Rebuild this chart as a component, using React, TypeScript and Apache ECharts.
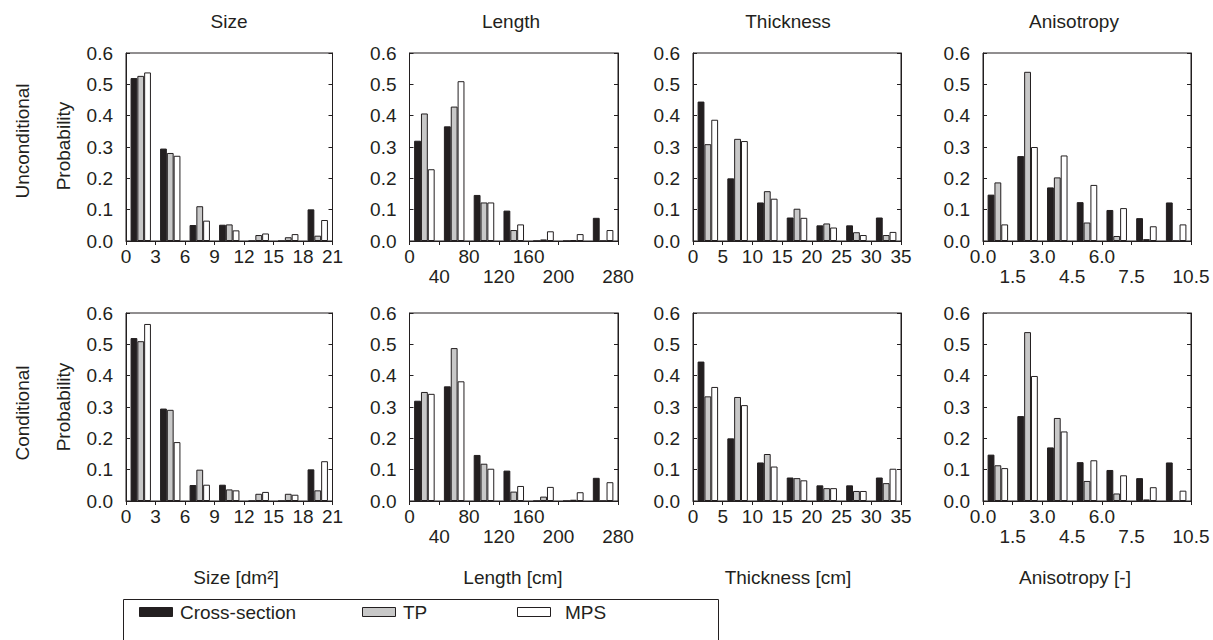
import React, { useEffect, useRef } from "react";
import * as echarts from "echarts";

// ---------- data ----------
const seriesNames = ["Cross-section", "TP", "MPS"];
const binLabels = ["b1", "b2", "b3", "b4", "b5", "b6", "b7"];
const columnTitles = ["Size", "Length", "Thickness", "Anisotropy"];
const axisNames = ["Size [dm²]", "Length [cm]", "Thickness [cm]", "Anisotropy [-]"];
const rowNames = ["Unconditional", "Conditional"];
const yTitle = "Probability";

// x ranges: [max, interval]
const sizeRange = [21, 3];
const lengthRange = [280, 40];
const thicknessRange = [35, 5];
const anisotropyRange = [10.5, 1.5];

// Size
const sizeCross = [0.52, 0.295, 0.051, 0.052, 0, 0, 0.101];
const sizeTPUncond = [0.527, 0.281, 0.111, 0.053, 0.019, 0.012, 0.017];
const sizeMPSUncond = [0.538, 0.272, 0.065, 0.034, 0.024, 0.022, 0.067];
const sizeTPCond = [0.51, 0.291, 0.1, 0.037, 0.023, 0.023, 0.034];
const sizeMPSCond = [0.565, 0.188, 0.052, 0.034, 0.029, 0.02, 0.127];

// Length
const lengthCross = [0.32, 0.366, 0.147, 0.097, 0, 0, 0.074];
const lengthTPUncond = [0.407, 0.429, 0.123, 0.035, 0.005, 0.003, 0];
const lengthMPSUncond = [0.229, 0.51, 0.123, 0.053, 0.031, 0.022, 0.035];
const lengthTPCond = [0.348, 0.488, 0.119, 0.03, 0.014, 0.004, 0];
const lengthMPSCond = [0.342, 0.382, 0.103, 0.048, 0.045, 0.028, 0.06];

// Thickness
const thicknessCross = [0.445, 0.2, 0.123, 0.075, 0.05, 0.05, 0.075];
const thicknessTPUncond = [0.309, 0.326, 0.159, 0.103, 0.056, 0.028, 0.019];
const thicknessMPSUncond = [0.387, 0.319, 0.135, 0.074, 0.043, 0.019, 0.029];
const thicknessTPCond = [0.334, 0.332, 0.15, 0.073, 0.041, 0.032, 0.057];
const thicknessMPSCond = [0.364, 0.306, 0.11, 0.066, 0.041, 0.032, 0.103];

// Anisotropy
const anisotropyCross = [0.148, 0.271, 0.171, 0.124, 0.099, 0.073, 0.123];
const anisotropyTPUncond = [0.187, 0.54, 0.203, 0.059, 0.016, 0.006, 0];
const anisotropyMPSUncond = [0.053, 0.3, 0.273, 0.179, 0.105, 0.047, 0.053];
const anisotropyTPCond = [0.114, 0.539, 0.265, 0.064, 0.024, 0.005, 0];
const anisotropyMPSCond = [0.105, 0.399, 0.222, 0.13, 0.082, 0.044, 0.033];

// ---------- styling ----------
const FONT = '"Liberation Sans", Arial, Helvetica, sans-serif';
const INK = "#231f20";
const FS = 19;
const barColors = [INK, "#c8c8c8", "#ffffff"];

const colLeft = [126, 409.5, 693, 983];
const colWidth = [206.5, 208.5, 208, 208];
const rowTop = [53, 313];
const rowHeight = [188, 188];

function fmtPlain(v: number) {
  return String(v);
}
function fmtAlternate(decimals: number, step: number) {
  return (v: number) => {
    const idx = Math.round(v / step);
    const s = decimals > 0 ? v.toFixed(decimals) : String(v);
    return idx % 2 === 0 ? s : "\n" + s;
  };
}

const panels = [
  { range: sizeRange, cross: sizeCross, tp: [sizeTPUncond, sizeTPCond], mps: [sizeMPSUncond, sizeMPSCond], fmt: fmtPlain },
  { range: lengthRange, cross: lengthCross, tp: [lengthTPUncond, lengthTPCond], mps: [lengthMPSUncond, lengthMPSCond], fmt: fmtAlternate(0, 40) },
  { range: thicknessRange, cross: thicknessCross, tp: [thicknessTPUncond, thicknessTPCond], mps: [thicknessMPSUncond, thicknessMPSCond], fmt: fmtPlain },
  { range: anisotropyRange, cross: anisotropyCross, tp: [anisotropyTPUncond, anisotropyTPCond], mps: [anisotropyMPSUncond, anisotropyMPSCond], fmt: fmtAlternate(1, 1.5) },
];

function buildOption() {
  const grid: any[] = [];
  const xAxis: any[] = [];
  const yAxis: any[] = [];
  const series: any[] = [];
  const lineStyle = { color: INK, width: 1 };
  for (let r = 0; r < 2; r++) {
    for (let c = 0; c < 4; c++) {
      const g = r * 4 + c;
      const p = panels[c];
      grid.push({
        left: colLeft[c],
        top: rowTop[r],
        width: colWidth[c],
        height: rowHeight[r],
        show: true,
        borderColor: INK,
        borderWidth: 1,
        backgroundColor: "transparent",
        containLabel: false,
        outerBoundsMode: "none",
      });
      xAxis.push({
        type: "category",
        gridIndex: g,
        data: binLabels,
        show: false,
        boundaryGap: true,
      });
      xAxis.push({
        type: "value",
        gridIndex: g,
        min: 0,
        max: p.range[0],
        interval: p.range[1],
        position: "bottom",
        axisLine: { show: true, onZero: false, lineStyle },
        axisTick: { show: true, inside: false, length: 4, lineStyle },
        axisLabel: {
          show: true,
          fontSize: FS,
          fontFamily: FONT,
          color: INK,
          margin: 5,
          lineHeight: 20,
          formatter: p.fmt,
          showMinLabel: true,
          showMaxLabel: true,
          hideOverlap: false,
        },
        splitLine: { show: false },
      });
      const yBase = {
        type: "value",
        gridIndex: g,
        min: 0,
        max: 0.6,
        interval: 0.1,
        splitLine: { show: false },
        axisLine: { show: true, onZero: false, lineStyle },
        axisTick: { show: true, inside: true, length: 4, lineStyle },
      };
      yAxis.push({
        ...yBase,
        position: "left",
        axisLabel: {
          show: true,
          fontSize: FS,
          fontFamily: FONT,
          color: INK,
          margin: 13,
          formatter: (v: number) => v.toFixed(1),
        },
      });
      yAxis.push({
        ...yBase,
        position: "right",
        axisLabel: { show: false },
      });
      const datasets = [p.cross, p.tp[r], p.mps[r]];
      datasets.forEach((d, k) => {
        series.push({
          type: "bar",
          name: seriesNames[k],
          xAxisIndex: 2 * g,
          yAxisIndex: 2 * g,
          data: d,
          barWidth: "23%",
          barGap: "0%",
          itemStyle: { color: barColors[k], borderColor: INK, borderWidth: 1 },
          emphasis: { disabled: true },
        });
      });
    }
  }

  const textStyle = (text: string, extra: any = {}) => ({
    text,
    fontSize: FS,
    fontFamily: FONT,
    fill: INK,
    align: "center",
    verticalAlign: "middle",
    ...extra,
  });

  const graphic: any[] = [];
  const titleX = [229, 511, 788, 1074];
  columnTitles.forEach((t, i) => {
    graphic.push({ type: "text", x: titleX[i], y: 21, style: textStyle(t) });
  });
  const nameX = [236, 513, 788, 1075];
  axisNames.forEach((t, i) => {
    graphic.push({ type: "text", x: nameX[i], y: 577, style: textStyle(t) });
  });
  const rowY = [141, 413];
  const probY = [146, 407];
  rowNames.forEach((t, i) => {
    graphic.push({ type: "text", x: 22, y: rowY[i], rotation: Math.PI / 2, style: textStyle(t) });
    graphic.push({ type: "text", x: 63, y: probY[i], rotation: Math.PI / 2, style: textStyle(yTitle) });
  });

  // legend box
  graphic.push({
    type: "rect",
    shape: { x: 123.5, y: 599.5, width: 595, height: 80 },
    style: { fill: "none", stroke: INK, lineWidth: 1 },
  });
  const legRectX = [139, 362, 517];
  const legTextX = [180, 403, 565];
  seriesNames.forEach((n, k) => {
    graphic.push({
      type: "rect",
      shape: { x: legRectX[k] + 0.5, y: 607.5, width: 33, height: 9 },
      style: { fill: barColors[k], stroke: INK, lineWidth: 1 },
    });
    graphic.push({
      type: "text",
      x: legTextX[k],
      y: 612,
      style: textStyle(n, { align: "left" }),
    });
  });

  return {
    animation: false,
    backgroundColor: "#ffffff",
    textStyle: { fontFamily: FONT },
    grid,
    xAxis,
    yAxis,
    series,
    graphic,
    tooltip: { show: false },
  };
}

export default function App() {
  const ref = useRef<HTMLDivElement>(null);
  useEffect(() => {
    document.body.style.margin = "0";
    if (!ref.current) return;
    const chart = echarts.init(ref.current, undefined, { renderer: "svg" });
    chart.setOption(buildOption() as any);
    return () => chart.dispose();
  }, []);
  return <div ref={ref} style={{ width: 1213, height: 640, background: "#fff" }} />;
}
